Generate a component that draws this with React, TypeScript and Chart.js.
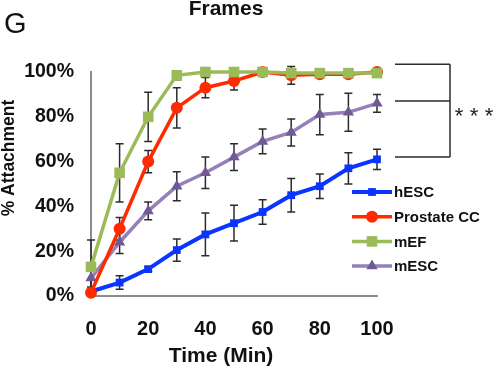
import React, { useEffect, useRef } from 'react';
import { Chart, registerables } from 'chart.js';

Chart.register(...registerables);

const FONT = '"Liberation Sans", Arial, Helvetica, sans-serif';

const times = [0, 10, 20, 30, 40, 50, 60, 70, 80, 90, 100];

const hESC = [2, 6, 12, 20.5, 27.5, 32.5, 37.5, 45, 49, 57, 61];
const hESCErr = [1, 3, 1, 5, 9.5, 8, 5.5, 7.5, 5.5, 7, 4.5];

const prostateCC = [1.5, 30, 60, 84, 93, 96, 100, 98.5, 99, 99, 100];
const prostateCCErr = [1, 5, 5, 9, 4.5, 4, 1, 4, 1, 1, 1];

const mEF = [13, 55, 80, 98.5, 100, 100, 100, 99.5, 99.5, 99.5, 99.5];
const mEFErr = [12, 13, 11, 2, 1, 1, 1, 1, 1, 1, 1];

const mESC = [8, 24, 38, 49, 55, 62, 69, 73, 81, 82, 86];
const mESCErr = [4, 5, 4, 6.5, 7, 6, 5.5, 6, 9, 8.5, 4];

const yTicks = [0, 20, 40, 60, 80, 100];
const xTicks = [0, 20, 40, 60, 80, 100];

// bracket levels (values on y scale) for the significance annotation
const bracketLevels = [103.5, 87, 62];

type SeriesDef = {
  label: string;
  values: number[];
  errors: number[];
  line: string;
  marker: string;
  style: 'rect' | 'circle' | 'triangle';
  radius: number;
  width: number;
  order: number;
};

const series: SeriesDef[] = [
  { label: 'hESC', values: hESC, errors: hESCErr, line: '#0a34ff', marker: '#0a34ff', style: 'rect', radius: 5.5, width: 4, order: 3 },
  { label: 'Prostate CC', values: prostateCC, errors: prostateCCErr, line: '#ff2a00', marker: '#ff2a00', style: 'circle', radius: 6, width: 3.5, order: 1 },
  { label: 'mEF', values: mEF, errors: mEFErr, line: '#9bbb59', marker: '#9bbb59', style: 'rect', radius: 7.5, width: 3.5, order: 0 },
  { label: 'mESC', values: mESC, errors: mESCErr, line: '#9580b8', marker: '#6f5a96', style: 'triangle', radius: 6.5, width: 3.5, order: 2 },
];

function drawMarker(ctx: CanvasRenderingContext2D, s: SeriesDef, x: number, y: number) {
  ctx.save();
  ctx.fillStyle = s.marker;
  ctx.beginPath();
  if (s.style === 'circle') {
    ctx.arc(x, y, s.radius, 0, Math.PI * 2);
  } else if (s.style === 'rect') {
    const h = s.radius * Math.SQRT1_2;
    ctx.rect(x - h, y - h, 2 * h, 2 * h);
  } else {
    const r = s.radius;
    ctx.moveTo(x, y - r);
    ctx.lineTo(x + r * 0.866, y + r * 0.5);
    ctx.lineTo(x - r * 0.866, y + r * 0.5);
    ctx.closePath();
  }
  ctx.fill();
  ctx.restore();
}

const errorBarPlugin = {
  id: 'errorBars',
  beforeDatasetsDraw(chart: any) {
    const ctx: CanvasRenderingContext2D = chart.ctx;
    const xs = chart.scales.x;
    const ys = chart.scales.y;
    ctx.save();
    ctx.strokeStyle = '#2b2b2b';
    ctx.lineWidth = 1.5;
    series.forEach((s) => {
      s.values.forEach((v, i) => {
        const e = s.errors[i];
        const x = xs.getPixelForValue(times[i]);
        const y1 = ys.getPixelForValue(v + e);
        const y2 = ys.getPixelForValue(v - e);
        ctx.beginPath();
        ctx.moveTo(x, y1);
        ctx.lineTo(x, y2);
        ctx.moveTo(x - 4, y1);
        ctx.lineTo(x + 4, y1);
        ctx.moveTo(x - 4, y2);
        ctx.lineTo(x + 4, y2);
        ctx.stroke();
      });
    });
    ctx.restore();
  },
};

const decorPlugin = {
  id: 'decor',
  afterDraw(chart: any) {
    const ctx: CanvasRenderingContext2D = chart.ctx;
    const area = chart.chartArea;
    const ys = chart.scales.y;
    ctx.save();

    // panel letter
    ctx.fillStyle = '#111';
    ctx.font = `29px ${FONT}`;
    ctx.textAlign = 'left';
    ctx.textBaseline = 'alphabetic';
    ctx.fillText('G', 4, 33);

    // title
    ctx.font = `bold 21px ${FONT}`;
    ctx.textAlign = 'center';
    ctx.fillText('Frames', 226, 15);

    // axis titles
    ctx.font = `bold 21px ${FONT}`;
    ctx.fillText('Time (Min)', 221, 362);
    ctx.save();
    ctx.translate(9, 158);
    ctx.rotate(-Math.PI / 2);
    ctx.textBaseline = 'middle';
    ctx.font = `bold 17.5px ${FONT}`;
    ctx.fillText('% Attachment', 0, 0);
    ctx.restore();

    // legend
    const lx0 = area.right - 25;
    const lx1 = area.right + 15;
    const ly0 = 192;
    ctx.font = `bold 15px ${FONT}`;
    ctx.textAlign = 'left';
    ctx.textBaseline = 'middle';
    series.forEach((s, i) => {
      const y = ly0 + i * 24.7;
      ctx.strokeStyle = s.line;
      ctx.lineWidth = s.width;
      ctx.beginPath();
      ctx.moveTo(lx0, y);
      ctx.lineTo(lx1, y);
      ctx.stroke();
      drawMarker(ctx, s, (lx0 + lx1) / 2, y);
      ctx.fillStyle = '#111';
      ctx.fillText(s.label, lx1 + 2, y + 1);
    });

    // significance bracket
    const bx0 = area.right + 18;
    const bx1 = area.right + 73;
    const ysB = bracketLevels.map((v) => ys.getPixelForValue(v));
    ctx.strokeStyle = '#2b2b2b';
    ctx.lineWidth = 1.5;
    ctx.beginPath();
    ysB.forEach((y) => {
      ctx.moveTo(bx0, y);
      ctx.lineTo(bx1, y);
    });
    ctx.moveTo(bx1, ysB[0]);
    ctx.lineTo(bx1, ysB[ysB.length - 1]);
    ctx.stroke();
    const midY = (ysB[0] + ysB[ysB.length - 1]) / 2;
    ctx.fillStyle = '#222';
    ctx.font = `22px ${FONT}`;
    ctx.textAlign = 'center';
    ctx.textBaseline = 'alphabetic';
    [0, 1, 2].forEach((k) => {
      ctx.fillText('*', bx1 + 9 + k * 15, midY + 12);
    });

    ctx.restore();
  },
};

export default function App() {
  const ref = useRef<HTMLCanvasElement | null>(null);

  useEffect(() => {
    if (!ref.current) return;
    const chart = new Chart(ref.current, {
      type: 'line',
      data: {
        datasets: series.map((s) => ({
          label: s.label,
          data: s.values.map((v, i) => ({ x: times[i], y: v })),
          borderColor: s.line,
          backgroundColor: s.marker,
          borderWidth: s.width,
          pointStyle: s.style,
          pointRadius: s.radius,
          pointBorderWidth: 0,
          pointBackgroundColor: s.marker,
          pointBorderColor: s.marker,
          tension: 0,
          clip: false as any,
          order: s.order,
        })),
      },
      options: {
        responsive: false,
        animation: false,
        layout: { padding: { left: 0, right: 123, top: 72, bottom: 0 } },
        plugins: {
          legend: { display: false },
          title: { display: false },
          tooltip: { enabled: false },
        },
        scales: {
          x: {
            type: 'linear',
            min: 0,
            max: 100,
            afterBuildTicks: (s: any) => {
              s.ticks = xTicks.map((v) => ({ value: v }));
            },
            afterFit: (s: any) => {
              s.height = 75;
            },
            ticks: {
              font: { family: FONT, size: 20, weight: 'bold' },
              color: '#111',
              padding: 21,
              maxRotation: 0,
            },
            grid: { display: false, drawTicks: false },
            border: { display: true, color: '#8c8c8c', width: 2 },
          },
          y: {
            type: 'linear',
            min: 0,
            max: 100,
            afterBuildTicks: (s: any) => {
              s.ticks = yTicks.map((v) => ({ value: v }));
            },
            afterFit: (s: any) => {
              s.width = 91;
            },
            ticks: {
              font: { family: FONT, size: 19.5, weight: 'bold' },
              color: '#111',
              padding: 17,
              callback: (v: any) => `${v}%`,
            },
            grid: { display: false, drawTicks: false },
            border: { display: true, color: '#8c8c8c', width: 2 },
          },
        },
      },
      plugins: [errorBarPlugin, decorPlugin],
    });
    return () => chart.destroy();
  }, []);

  return (
    <div style={{ position: 'absolute', left: 0, top: 0, width: 500, height: 371, background: '#fff' }}>
      <canvas ref={ref} width={500} height={371} style={{ display: 'block' }} />
    </div>
  );
}
